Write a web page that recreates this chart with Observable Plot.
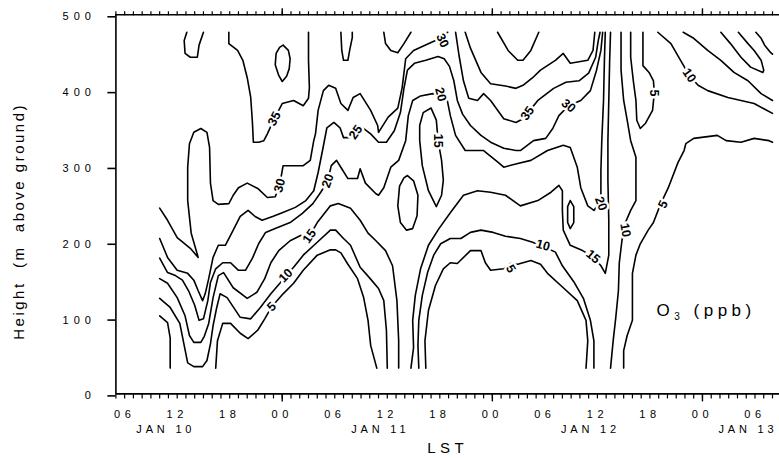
<!DOCTYPE html>
<html>
<head>
<meta charset="utf-8">
<script src="https://cdn.jsdelivr.net/npm/d3@7"></script>
<script src="https://cdn.jsdelivr.net/npm/@observablehq/plot@0.6"></script>
<style>
  html, body { margin: 0; padding: 0; background: #fff; }
  #chart svg { display: block; font-family: "Liberation Sans", Arial, sans-serif; }
</style>
</head>
<body>
<div id="chart"></div>
<script>
// time t = hours since JAN 10 00:00 LST, height h in metres above ground
const xDomain = [5, 80.8];
const yTicks = [0, 100, 200, 300, 400, 500];
const xLabelHours = [6, 12, 18, 24, 30, 36, 42, 48, 54, 60, 66, 72, 78];
const xLabelText = ["06", "12", "18", "00", "06", "12", "18", "00", "06", "12", "18", "00", "06"];
const dayLabelHours = [10.7, 35.2, 59.2, 77.2];
const dayLabelText = ["JAN 10", "JAN 11", "JAN 12", "JAN 13"];

// O3 contour polylines, points are [t, h]
const c35a = [[13.1,477],[12.8,466],[12.9,449],[13.5,444],[14.3,444],[14.5,460],[15.0,477]];
const c35b = [[17.9,477],[17.9,462],[18.9,453],[19.5,440],[20.0,417],[20.4,391],[20.6,357],[20.7,332],[21.3,332],[21.9,334],[22.3,343],[23.1,363],[24.0,383],[25.3,387],[26.4,380],[27.0,390],[27.1,404],[27.0,440],[27.0,477]];
const c40a = [[24.1,460],[24.7,453],[24.9,442],[24.8,429],[24.5,419],[24.0,412],[23.6,420],[23.2,434],[23.3,449],[23.7,457],[24.1,460]];
const cU1 = [[30.7,477],[30.8,453],[31.0,440],[31.5,440],[31.7,453],[32.0,470],[32.0,477]];
const cU2 = [[35.6,477],[35.8,462],[36.4,453],[37.2,450],[37.9,462],[38.7,477]];
const c30a = [[10.0,245],[10.9,229],[12.0,206],[13.5,192],[14.4,180],[13.6,212],[13.2,255],[13.2,299],[13.4,330],[13.9,345],[14.7,350],[15.4,345],[15.7,325],[15.8,278],[16.1,255],[16.7,250],[17.9,251],[18.4,262],[19.0,272],[20.0,278],[21.2,271],[22.3,259],[23.2,260],[23.7,275],[24.1,301],[26.4,301],[27.2,308],[27.6,334],[27.8,343],[28.1,374],[28.7,400],[29.3,407],[30.1,403],[30.7,383],[31.5,374],[32.1,391],[32.9,396],[34.1,374],[34.9,354],[35.0,345],[36.1,365],[37.2,377],[37.7,404],[38.1,442],[39.0,453],[41.5,466],[42.4,473],[42.9,477]];
const c25a = [[10.0,205],[10.9,180],[12.0,163],[13.2,159],[13.9,150],[14.4,136],[14.9,123],[15.2,132],[15.6,152],[16.1,180],[16.7,196],[17.5,196],[18.4,216],[19.2,234],[20.1,242],[20.9,234],[21.7,229],[22.9,234],[24.0,239],[25.5,246],[26.7,255],[27.6,268],[28.1,292],[28.6,321],[29.1,351],[29.9,358],[30.6,351],[31.0,338],[31.8,338],[32.4,345],[33.2,351],[34.1,343],[35.0,332],[35.9,332],[36.8,347],[37.5,371],[37.9,403],[38.3,427],[39.1,436],[40.4,440],[41.8,445],[42.5,442],[43.1,432],[43.6,413],[44.0,387],[44.6,369],[45.5,354],[46.7,341],[47.8,332],[49.3,324],[50.7,321],[51.2,321],[52.7,334],[54.1,337],[54.9,350],[55.6,367],[56.7,380],[58.1,387],[59.2,400],[59.9,427],[60.4,453],[60.6,477]];
const c35c = [[43.8,477],[44.2,446],[44.7,413],[45.3,390],[46.3,387],[47.0,396],[47.8,387],[49.3,363],[50.7,358],[51.5,363],[52.0,370],[53.2,387],[55.0,403],[56.4,411],[57.9,413],[59.0,423],[59.8,444],[60.1,466],[60.3,477]];
const cP2 = [[44.9,477],[45.5,456],[46.7,424],[47.8,409],[49.5,406],[50.7,403],[51.5,407],[52.6,417],[53.5,427],[55.2,440],[56.1,449],[56.9,436],[58.9,440],[59.5,453],[59.7,477]];
const cP3 = [[48.6,477],[49.8,453],[50.9,440],[51.5,440],[52.4,453],[53.3,477]];
const c20a = [[10.0,179],[10.9,160],[11.8,156],[12.6,150],[13.3,136],[14.0,117],[14.5,97],[15.0,99],[15.5,123],[15.8,147],[16.4,165],[17.2,173],[18.1,173],[19.0,163],[19.8,163],[20.6,179],[21.3,198],[22.1,213],[23.2,218],[24.9,226],[26.3,238],[27.5,251],[28.4,266],[29.2,281],[29.6,301],[30.2,308],[30.8,297],[31.5,284],[32.6,284],[32.9,297],[33.5,278],[34.7,264],[35.0,262],[35.6,272],[36.4,299],[37.3,308],[38.1,334],[38.4,367],[38.9,387],[39.8,393],[41.2,396],[42.1,395],[42.8,390],[43.2,367],[43.8,341],[44.9,321],[47.0,321],[48.7,305],[49.3,299],[50.9,304],[52.4,308],[54.3,321],[56.1,328],[56.9,325],[57.7,299],[58.1,272],[58.9,248],[59.6,242],[60.4,255],[60.4,295],[60.5,334],[60.7,387],[60.8,440],[60.9,477]];
const c15loop = [[41.0,377],[40.1,371],[39.7,354],[39.7,334],[40.0,301],[40.7,268],[41.6,247],[42.2,262],[42.4,282],[42.2,308],[41.8,334],[41.6,361],[41.0,377]];
const c20oval2 = [[38.3,288],[39.0,281],[39.5,262],[39.4,235],[38.9,218],[38.2,216],[37.5,226],[37.2,248],[37.4,274],[37.9,285],[38.3,288]];
const c15a = [[10.0,152],[10.9,146],[12.0,127],[12.9,103],[13.4,77],[13.9,68],[14.7,68],[15.1,76],[15.6,93],[16.1,127],[16.7,156],[17.3,160],[18.4,140],[20.0,126],[21.1,134],[22.0,152],[22.7,173],[23.6,189],[24.9,202],[26.1,209],[27.1,208],[28.0,226],[29.5,248],[30.4,251],[31.8,245],[32.9,229],[33.8,212],[34.7,202],[35.8,189],[36.6,169],[37.1,123],[37.3,70],[37.3,34]];
const c10a = [[10.0,126],[11.2,114],[12.3,93],[12.8,64],[13.2,41],[13.9,36],[14.9,36],[15.4,44],[15.8,66],[16.1,90],[16.5,113],[16.9,132],[17.7,127],[19.2,101],[20.4,99],[21.5,114],[22.7,132],[23.8,147],[24.4,156],[25.3,167],[26.4,183],[28.0,200],[29.5,216],[30.1,216],[31.0,205],[31.8,196],[32.9,167],[33.9,154],[35.0,139],[35.6,123],[35.9,84],[36.0,34]];
const c5a = [[10.0,103],[10.9,94],[11.2,74],[11.2,34]];
const c5b = [[16.4,34],[16.6,70],[17.2,93],[18.1,93],[19.2,80],[20.1,73],[21.2,84],[22.0,99],[22.8,115],[24.1,132],[25.3,146],[26.4,163],[28.0,183],[29.5,190],[30.1,190],[30.7,186],[31.5,171],[32.6,152],[33.3,127],[33.8,97],[34.1,64],[34.8,34]];
const c15b = [[38.7,34],[39.0,61],[38.9,97],[39.2,130],[39.8,165],[40.7,196],[41.9,218],[43.2,239],[44.7,262],[46.3,268],[47.8,266],[49.5,262],[51.2,248],[53.2,255],[54.7,266],[55.6,275],[56.0,268],[56.0,242],[56.1,216],[56.9,196],[58.3,189],[59.5,181],[60.4,169],[60.9,159],[61.3,183],[61.3,229],[61.2,281],[61.2,334],[61.3,387],[61.4,440],[61.5,477]];
const c10b = [[39.6,34],[39.5,64],[39.6,97],[40.0,130],[40.6,160],[41.3,183],[42.1,198],[43.2,205],[44.4,205],[45.5,213],[46.7,216],[48.1,213],[49.5,208],[51.2,205],[52.6,200],[54.1,193],[55.2,187],[56.0,169],[57.3,148],[58.4,126],[59.2,97],[59.6,70],[59.6,34]];
const c5c = [[40.4,34],[40.3,70],[40.7,110],[41.5,143],[42.4,165],[43.2,173],[44.0,172],[45.5,189],[46.7,189],[47.2,173],[47.8,163],[49.3,165],[50.1,172],[50.9,171],[52.4,176],[53.5,171],[54.3,159],[56.1,140],[57.7,123],[58.7,97],[58.9,70],[58.7,34]];
const c20oval = [[56.9,255],[57.3,247],[57.3,226],[56.9,218],[56.6,226],[56.6,247],[56.9,255]];
const c10c = [[62.7,477],[62.7,427],[63.0,387],[63.4,361],[63.8,334],[64.4,312],[64.4,255],[63.8,242],[63.2,226],[62.8,202],[62.5,173],[62.4,136],[62.1,101],[61.8,70],[61.5,34]];
const c5d = [[63.0,34],[63.0,57],[63.4,77],[64.0,97],[64.0,123],[64.0,159],[64.4,183],[64.9,198],[65.8,216],[66.4,226],[67.2,250],[68.1,272],[69.2,305],[69.9,321],[70.1,330],[71.0,337],[73.7,341],[74.7,334],[76.4,332],[77.9,337],[79.6,334],[80.0,332]];
const c5U = [[63.8,477],[63.8,444],[64.1,413],[64.4,387],[64.5,361],[64.9,350],[65.5,357],[66.3,374],[66.5,397],[66.4,413],[65.9,424],[65.2,433],[65.2,477]];
const c10d = [[66.9,477],[68.4,462],[69.5,440],[70.5,420],[71.5,407],[72.6,400],[74.9,391],[77.9,383],[80.0,370]];
const cR1 = [[69.8,477],[71.0,469],[72.6,453],[74.1,440],[75.6,424],[77.2,413],[78.7,396],[80.0,387]];
const cR2 = [[74.1,477],[75.2,462],[76.4,444],[77.5,431],[78.9,424],[79.0,427],[78.7,440],[77.9,453],[77.2,462],[76.1,477]];
const cR3 = [[78.1,477],[78.7,469],[79.1,460],[79.8,450],[80.0,448]];

// contour value labels
const labelT = [23.1, 23.7, 32.4, 29.2, 27.1, 24.4, 22.8, 42.3, 42.1, 41.8, 52.0, 56.7, 60.4, 59.5, 63.2, 53.8, 50.1, 67.5, 66.5, 70.5];
const labelH = [363, 275, 345, 281, 208, 156, 115, 466, 395, 334, 370, 380, 251, 181, 216, 196, 165, 250, 397, 420];
const labelText = ["35", "30", "25", "20", "15", "10", "5", "30", "20", "15", "35", "30", "20", "15", "10", "10", "5", "5", "5", "10"];
const labelAngle = [-63, -75, -55, -70, -55, -45, -45, 65, 75, 90, -55, 40, 70, 40, 80, 15, 60, -65, 90, 55];

const allLines = [c35a, c35b, c40a, cU1, cU2, c30a, c25a, c35c, cP2, cP3, c20a, c15loop, c20oval2, c15a, c10a, c5a, c5b, c15b, c10b, c5c, c20oval, c10c, c5d, c5U, c10d, cR1, cR2, cR3];
const rows = [];
allLines.forEach((seg, id) => seg.forEach(([t, h]) => rows.push({id, t, h})));
const labels = labelText.map((s, i) => ({t: labelT[i], h: labelH[i], s, a: labelAngle[i]}));

const minor = d3.range(5, 81, 1);
const major = [24, 48, 72];

const plot = Plot.plot({
  width: 779,
  height: 458,
  marginLeft: 115.4,
  marginRight: 0,
  marginTop: 14.3,
  marginBottom: 64.6,
  style: {fontFamily: "'Liberation Sans', Arial, sans-serif", fontSize: "11px", overflow: "visible"},
  x: {domain: xDomain, label: null},
  y: {domain: [0, 500], label: null},
  marks: [
    Plot.line(rows, {x: "t", y: "h", z: "id", stroke: "black", strokeWidth: 1.6, curve: "linear"}),
    Plot.text(labels, {x: "t", y: "h", text: "s", rotate: "a", fontWeight: "bold", fontSize: 12.5, fill: "black", stroke: "white", strokeWidth: 5, paintOrder: "stroke"}),
    Plot.ruleY([0, 500], {stroke: "black", strokeWidth: 1.6}),
    Plot.ruleX([xDomain[0]], {stroke: "black", strokeWidth: 1.6}),
    Plot.axisY({ticks: yTicks, label: null, tickSize: 8, tickPadding: 12, dy: 2, tickFormat: d => String(d), fontSize: 11, strokeWidth: 1.6}),
    Plot.axisX({anchor: "bottom", label: null, ticks: minor, tickSize: 5, tickFormat: () => "", strokeWidth: 1.2}),
    Plot.axisX({anchor: "bottom", label: null, ticks: major, tickSize: 8, tickFormat: () => "", strokeWidth: 1.4}),
    Plot.axisX({anchor: "top", label: null, ticks: minor, tickSize: 4, tickFormat: () => "", strokeWidth: 1.2}),
    Plot.axisX({anchor: "top", label: null, ticks: major, tickSize: 7, tickFormat: () => "", strokeWidth: 1.4}),
    Plot.text(xLabelHours, {x: d => d, text: (d, i) => xLabelText[i], frameAnchor: "bottom", dy: 24, fontSize: 11, className: "spaced"}),
    Plot.text(dayLabelHours, {x: d => d, text: (d, i) => dayLabelText[i], frameAnchor: "bottom", dy: 39, fontSize: 11, className: "spacedDay"}),
    Plot.text(["LST"], {frameAnchor: "bottom", dy: 59, fontSize: 15, className: "spaced"}),
    Plot.text(["Height  (m  above ground)"], {frameAnchor: "left", textAnchor: "middle", rotate: -90, dx: -97, dy: 17, fontSize: 15, className: "spacedY"}),
    Plot.text(["O3 (ppb)"], {frameAnchor: "bottom-right", dx: -123, dy: -78, fontSize: 17, textAnchor: "start", className: "o3"})
  ]
});
document.getElementById("chart").appendChild(plot);
d3.select(plot).selectAll(".spaced, .o3").style("letter-spacing", "4.5px");
d3.select(plot).selectAll(".spacedDay").style("letter-spacing", "3.8px");
d3.select(plot).selectAll(".spacedY").style("letter-spacing", "2.5px");
d3.select(plot).selectAll("[aria-label='y-axis tick label']").style("letter-spacing", "5px");
d3.select(plot).selectAll(".o3 text").each(function() {
  const t = d3.select(this);
  t.text(null);
  t.append("tspan").text("O");
  t.append("tspan").attr("font-size", 10).attr("dy", 4).text("3");
  t.append("tspan").attr("dy", -4).text(" (ppb)");
});
</script>
</body>
</html>
